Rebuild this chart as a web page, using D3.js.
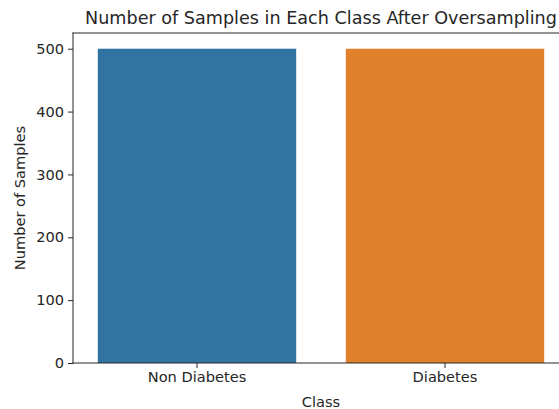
<!DOCTYPE html>
<html>
<head>
<meta charset="utf-8">
<script src="https://cdn.jsdelivr.net/npm/d3@7"></script>
<style>
    body { margin: 0; background: #fff; overflow: hidden; }
    svg { display: block; overflow: hidden; }
    svg text { font-family: "DejaVu Sans", sans-serif; fill: #262626; }
</style>
</head>
<body>
<div id="chart"></div>
<script>
// data
var classes = ["Non Diabetes", "Diabetes"];
var counts = [500, 500];
var barColors = ["#3274a1", "#e1812c"];
var yTicks = [0, 100, 200, 300, 400, 500];

var margin = {top: 33, bottom: 46, left: 73, right: -10};
var width = 559 - margin.left - margin.right;
var height = 409 - margin.top - margin.bottom;

var svg = d3.select("#chart").append("svg")
    .attr("width", 559)
    .attr("height", 409);

var g = svg.append("g")
    .attr("transform", "translate(" + margin.left + "," + margin.top + ")");

// x as band: each category gets a slot, bars 80% of it
var x = d3.scaleBand()
    .domain(classes)
    .range([0, width])
    .paddingInner(0.2)
    .paddingOuter(0.1);

var y = d3.scaleLinear()
    .domain([0, 525])
    .range([height, 0]);

g.selectAll("rect.bar")
    .data(classes)
    .enter()
    .append("rect")
    .attr("class", "bar")
    .attr("x", function(d) { return x(d); })
    .attr("y", function(d, i) { return y(counts[i]); })
    .attr("width", x.bandwidth())
    .attr("height", function(d, i) { return height - y(counts[i]); })
    .attr("fill", function(d, i) { return barColors[i]; });

var yAxis = d3.axisLeft(y)
    .tickValues(yTicks)
    .tickSize(5)
    .tickPadding(4);

var xAxis = d3.axisBottom(x)
    .tickSize(5)
    .tickPadding(4);

var yAxisG = g.append("g").attr("class", "axis y-axis").call(yAxis);
var xAxisG = g.append("g").attr("class", "axis x-axis")
    .attr("transform", "translate(0," + height + ")")
    .call(xAxis);

[yAxisG, xAxisG].forEach(function(a) {
    a.select(".domain").remove();
    a.selectAll(".tick line").attr("stroke", "#262626").attr("stroke-width", 1);
    a.selectAll(".tick text").attr("font-size", "14.6px").style("fill", "#262626");
});

// spines (the right one sits past the window edge, as in the original)
var spines = [
    [0, 0, width, 0],
    [0, height, width, height],
    [0, 0, 0, height]
];
g.selectAll("line.spine")
    .data(spines)
    .enter()
    .append("line")
    .attr("class", "spine")
    .attr("x1", function(d) { return d[0]; })
    .attr("y1", function(d) { return d[1]; })
    .attr("x2", function(d) { return d[2]; })
    .attr("y2", function(d) { return d[3]; })
    .attr("stroke", "#262626")
    .attr("stroke-width", 1)
    .attr("stroke-linecap", "square");

svg.append("text")
    .attr("x", margin.left + width / 2)
    .attr("y", 24)
    .attr("text-anchor", "middle")
    .attr("font-size", "17.6px")
    .text("Number of Samples in Each Class After Oversampling");

svg.append("text")
    .attr("x", margin.left + width / 2)
    .attr("y", 407)
    .attr("text-anchor", "middle")
    .attr("font-size", "14.6px")
    .text("Class");

svg.append("text")
    .attr("transform", "translate(25," + (margin.top + height / 2) + ") rotate(-90)")
    .attr("text-anchor", "middle")
    .attr("font-size", "14.6px")
    .text("Number of Samples");
</script>
</body>
</html>
